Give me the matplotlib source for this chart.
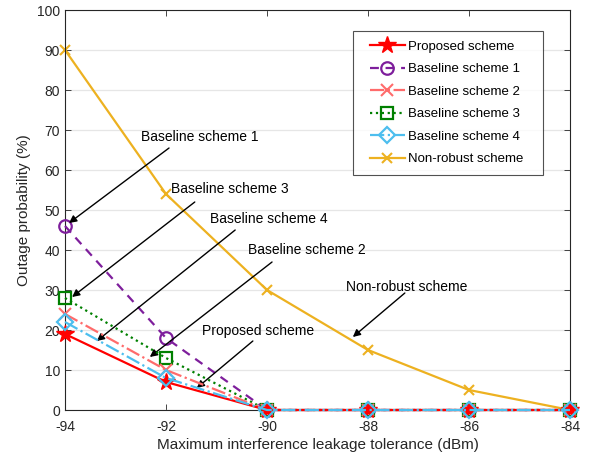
import matplotlib
matplotlib.use("Agg")
import matplotlib.pyplot as plt
from matplotlib.lines import Line2D
from matplotlib.legend_handler import HandlerLine2D

plt.rcParams['font.family'] = ['Liberation Sans', 'DejaVu Sans']

x = [-94, -92, -90, -88, -86, -84]
proposed = [19, 7, 0, 0, 0, 0]
baseline1 = [46, 18, 0, 0, 0, 0]
baseline2 = [24, 10, 0, 0, 0, 0]
baseline3 = [28, 13, 0, 0, 0, 0]
baseline4 = [22, 8, 0, 0, 0, 0]
nonrobust = [90, 54, 30, 15, 5, 0]

fig = plt.figure(figsize=(5.92, 4.55), dpi=100)
ax = fig.add_axes([0.1098, 0.0989, 0.8530, 0.8791])

common = dict(lw=1.6, clip_on=False)
ax.plot(x, proposed, '-', color='#FF0000', marker='*', ms=13,
        label='Proposed scheme', zorder=6, **common)
ax.plot(x, baseline1, '--', color='#7E1E9C', marker='o', ms=9, mfc='none',
        mew=1.6, label='Baseline scheme 1', dashes=(4, 3), zorder=3, **common)
ax.plot(x, baseline2, '-.', color='#FF6B6B', marker='x', ms=8, mew=1.5,
        label='Baseline scheme 2', zorder=5, **common)
ax.plot(x, baseline3, ':', color='#008000', marker='s', ms=9, mfc='none',
        mew=1.6, label='Baseline scheme 3', zorder=4, **common)
ax.plot(x, baseline4, '-.', color='#4DBEEE', marker='D', ms=8, mfc='none',
        mew=1.6, label='Baseline scheme 4', zorder=7, **common)
ax.plot(x, nonrobust, '-', color='#EDB120', marker='x', ms=7, mew=1.5,
        label='Non-robust scheme', zorder=2, **common)

ax.set_xlim(-94, -84)
ax.set_ylim(0, 100)
ax.set_xticks(x)
ax.set_xticklabels(['-94', '-92', '-90', '-88', '-86', '-84'])
ax.set_yticks(range(0, 101, 10))
ax.yaxis.grid(True, color='#E6E6E6', lw=0.9)
ax.set_axisbelow(True)
ax.tick_params(direction='in', top=True, right=True, labelsize=10,
               colors='#262626', length=4, width=0.6)
ax.tick_params(axis='x', pad=7)
for s in ax.spines.values():
    s.set_color('#262626')
    s.set_linewidth(0.8)

ax.set_xlabel('Maximum interference leakage tolerance (dBm)', fontsize=11,
              color='#262626', labelpad=3)
ax.set_ylabel('Outage probability (%)', fontsize=11, color='#262626')

arrow = dict(arrowstyle='-|>', color='black', lw=1.0, mutation_scale=11,
             shrinkA=0, shrinkB=0)
notes = [
    ('Baseline scheme 1', (-93.92, 46.75), (-91.94, 65.5), (-91.33, 68.25)),
    ('Baseline scheme 3', (-93.86, 28.25), (-91.43, 52.0), (-90.73, 55.25)),
    ('Baseline scheme 4', (-93.37, 17.25), (-90.63, 45.0), (-89.96, 47.75)),
    ('Baseline scheme 2', (-92.32, 13.25), (-89.90, 37.0), (-89.21, 40.0)),
    ('Proposed scheme', (-91.39, 5.5), (-90.28, 17.25), (-90.18, 19.75)),
    ('Non-robust scheme', (-88.30, 18.25), (-87.27, 29.25), (-87.23, 30.75)),
]
for text, tip, start, pos in notes:
    ax.annotate('', xy=tip, xytext=start, arrowprops=arrow)
    ax.text(pos[0], pos[1], text, ha='center', va='center', fontsize=10)

leg = ax.legend(loc='upper left', bbox_to_anchor=(0.5703, 0.595, 0.3762, 0.3525),
                mode='expand', borderaxespad=0, fontsize=9.5, frameon=True,
                fancybox=False, edgecolor='#262626', handlelength=3.22,
                handletextpad=0.23, borderpad=0.72, labelspacing=0.78,
                handler_map={Line2D: HandlerLine2D(xpad=0.57)})
leg.get_frame().set_linewidth(0.8)

fig.savefig('out.png', dpi=100)
